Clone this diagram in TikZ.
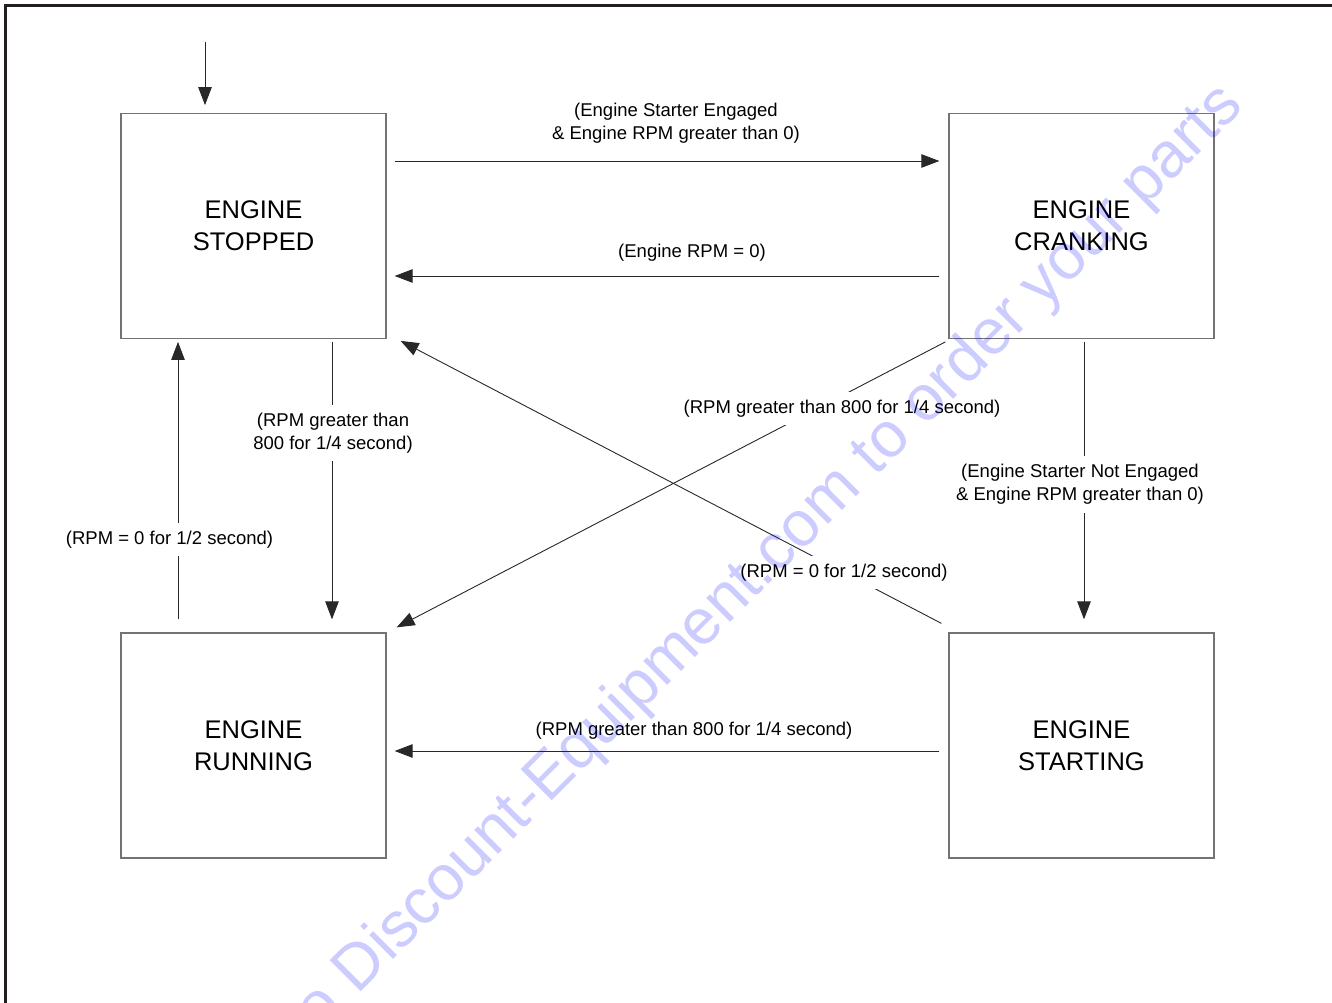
\documentclass[tikz,border=0pt]{standalone}
\usepackage{fontspec}
\setmainfont{Liberation Sans}
\usetikzlibrary{arrows.meta}
\definecolor{framecol}{RGB}{35,31,32}
\definecolor{boxcol}{RGB}{115,115,115}
\definecolor{linecol}{RGB}{40,40,40}
\begin{document}
\begin{tikzpicture}[x=1pt,y=-1pt,
  state/.style={draw=boxcol, line width=1.3pt, minimum width=265pt, minimum height=225pt,
    align=center, font=\fontsize{25.5}{32}\selectfont, inner sep=0pt},
  arr/.style={draw=linecol, line width=0.9pt, -{Triangle[length=18pt,width=13.5pt]}},
  lbl/.style={align=center, font=\fontsize{18.5}{23}\selectfont, inner sep=0pt, text=black},
  cut/.style={lbl, fill=white, inner xsep=3pt, inner ysep=8pt},
  overprint/.style={text=blue, opacity=0.2, font=\fontsize{64}{64}\selectfont, inner sep=0pt}
]
\useasboundingbox (0,0) rectangle (1332,1003);
\clip (0,0) rectangle (1332,1003);
\fill[white] (0,0) rectangle (1332,1003);

% outer frame (top and left edges)
\draw[framecol, line width=3pt] (5.5,1040) -- (5.5,5.5) -- (1360,5.5);

% states
\node[state] (st) at (253.5,225.75) {ENGINE\\STOPPED};
\node[state] (cr) at (1081.5,225.75) {ENGINE\\CRANKING};
\node[state] (ru) at (253.5,745.5) {ENGINE\\RUNNING};
\node[state] (sa) at (1081.5,745.5) {ENGINE\\STARTING};

% initial transition
\coordinate (init) at (205,42);
\draw[arr, shorten >=7.5pt] (init) -- ([xshift=-48.5pt]st.north);

% stopped <-> cranking
\draw[arr, shorten <=8pt, shorten >=9pt] ([yshift=64.75pt]st.east) -- ([yshift=64.75pt]cr.west);
\node[lbl] (l1) at (676,123.5) {(Engine Starter Engaged\\\& Engine RPM greater than 0)};
\draw[arr, shorten <=9pt, shorten >=8pt] ([yshift=-50.25pt]cr.west) -- ([yshift=-50.25pt]st.east);
\node[lbl] (l2) at (692,253) {(Engine RPM = 0)};

% stopped <-> running
\draw[arr, shorten <=3pt, shorten >=13pt] ([xshift=78.5pt]st.south) -- ([xshift=78.5pt]ru.north);
\node[cut] (l3) at (333,433) {(RPM greater than\\800 for 1/4 second)};
\draw[arr, shorten <=13pt, shorten >=3pt] ([xshift=-75.5pt]ru.north) -- ([xshift=-75.5pt]st.south);
\node[cut] (l4) at (169.5,539.5) {(RPM = 0 for 1/2 second)};

% diagonals
\draw[arr] ([xshift=-3pt,yshift=-3pt]cr.south west) -- ([xshift=10pt,yshift=5pt]ru.north east);
\node[cut] (l5) at (842,408.5) {(RPM greater than 800 for 1/4 second)};
\draw[arr] ([xshift=-7pt,yshift=9pt]sa.north west) -- ([xshift=14pt,yshift=-2pt]st.south east);
\node[cut] (l6) at (844,572.5) {(RPM = 0 for 1/2 second)};

% cranking -> starting
\draw[arr, shorten <=3pt, shorten >=13pt] ([xshift=2.5pt]cr.south) -- ([xshift=2.5pt]sa.north);
\node[cut] (l7) at (1080,484.5) {(Engine Starter Not Engaged\\\& Engine RPM greater than 0)};

% starting -> running
\draw[arr, shorten <=9pt, shorten >=8pt] ([yshift=-5.5pt]sa.west) -- ([yshift=-5.5pt]ru.east);
\node[lbl] (l8) at (694,730.5) {(RPM greater than 800 for 1/4 second)};

% diagonal overprint
\node[overprint, rotate=45, anchor=base west] (wm) at (234,1119)
  {Go to Discount-Equipment.com to order your parts};
\end{tikzpicture}
\end{document}
